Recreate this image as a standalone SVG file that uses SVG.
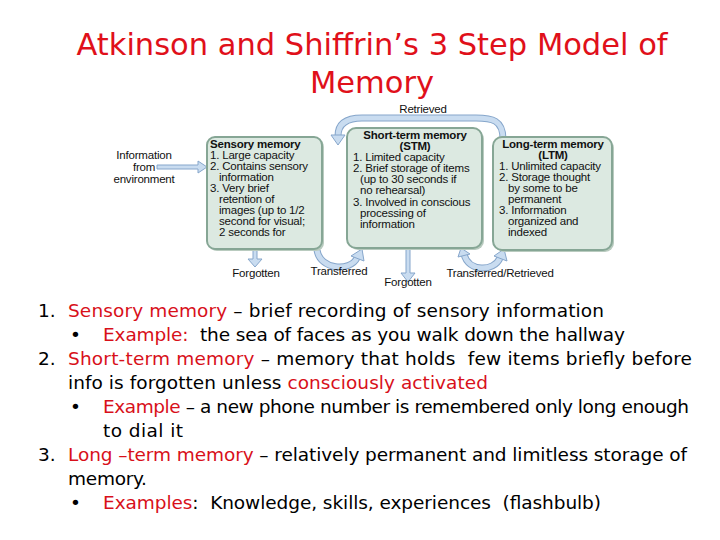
<svg xmlns="http://www.w3.org/2000/svg" width="720" height="540" viewBox="0 0 720 540">
<style>
.title{font-family:"DejaVu Sans",sans-serif;font-size:30.5px;fill:#e0101a;text-anchor:middle}
.box{fill:#dce9e1;stroke:#86a695;stroke-width:2}
.shadow{fill:#b9cbbf}
.d{font-family:"Liberation Sans",Arial,sans-serif;font-size:11.5px;letter-spacing:-0.2px;fill:#111}
.b{font-weight:bold}
.c{text-anchor:middle}
.body{font-family:"DejaVu Sans",sans-serif;font-size:18.5px;fill:#000;white-space:pre}
.r{fill:#d8101a}
.arr{fill:#c9dcf0;stroke:#86a6cb;stroke-width:1}
.arcO{fill:none;stroke:#86a6cb;stroke-width:7}
.arcI{fill:none;stroke:#c9dcf0;stroke-width:5}
</style>
<rect width="720" height="540" fill="#ffffff"/>
<g id="title">
<text class="title" x="372" y="55">Atkinson and Shiffrin’s 3 Step Model of</text>
<text class="title" x="372" y="93">Memory</text>
</g>
<g id="connectors">
<polygon class="arr" points="157,165 198,165 198,161 207,167 198,173 198,169 157,169"/>
<polygon class="arr" points="253,250 257,250 257,259 262,259 255,267 248,259 253,259"/>
<polygon class="arr" points="406,249 410,249 410,273 415,273 408,282 401,273 406,273"/>
<path class="arcO" d="M503,139 C503,120 492,118 476,118 L362,118 C346,118 338,124 338,136"/>
<path class="arcI" d="M503,139 C503,120 492,118 476,118 L362,118 C346,118 338,124 338,136"/>
<polygon class="arr" points="331,135 345,135 338,145"/>
<path class="arcO" d="M317,250 C320,270 350,272 357,258"/>
<path class="arcI" d="M317,250 C320,270 350,272 357,258"/>
<polygon class="arr" points="351,256 364,261 362,249"/>
<path class="arcO" d="M464,254 C468,272 494,272 500,258"/>
<path class="arcI" d="M464,254 C468,272 494,272 500,258"/>
<polygon class="arr" points="494,256 507,261 504,249"/>
<polygon class="arr" points="458,257 470,254 461,248"/>
</g>
<g id="env-label">
<text class="d c" x="144" y="159">Information</text>
<text class="d c" x="144" y="171">from</text>
<text class="d c" x="144" y="183">environment</text>
</g>
<g id="sensory">
<rect class="shadow" x="209" y="139" width="115" height="112" rx="8"/>
<rect class="box" x="207" y="137" width="115" height="112" rx="8"/>
<text class="d b" x="210" y="148">Sensory memory</text>
<text class="d" x="210" y="159">1. Large capacity</text>
<text class="d" x="210" y="170">2. Contains sensory</text>
<text class="d" x="219" y="181">information</text>
<text class="d" x="210" y="192">3. Very brief</text>
<text class="d" x="219" y="203">retention of</text>
<text class="d" x="219" y="214">images (up to 1/2</text>
<text class="d" x="219" y="225">second for visual;</text>
<text class="d" x="219" y="236">2 seconds for</text>
</g>
<g id="stm">
<rect class="shadow" x="349" y="130" width="135" height="120" rx="9"/>
<rect class="box" x="347" y="128" width="135" height="120" rx="9"/>
<text class="d b c" x="415" y="139">Short-term memory</text>
<text class="d b c" x="415" y="150">(STM)</text>
<text class="d" x="353" y="161">1. Limited capacity</text>
<text class="d" x="353" y="172">2. Brief storage of items</text>
<text class="d" x="360" y="183">(up to 30 seconds if</text>
<text class="d" x="360" y="194">no rehearsal)</text>
<text class="d" x="353" y="206">3. Involved in conscious</text>
<text class="d" x="360" y="217">processing of</text>
<text class="d" x="360" y="228">information</text>
</g>
<g id="ltm">
<rect class="shadow" x="495" y="139" width="119" height="113" rx="9"/>
<rect class="box" x="493" y="137" width="119" height="113" rx="9"/>
<text class="d b c" x="553" y="148">Long-term memory</text>
<text class="d b c" x="553" y="159">(LTM)</text>
<text class="d" x="499" y="170">1. Unlimited capacity</text>
<text class="d" x="499" y="181">2. Storage thought</text>
<text class="d" x="508" y="192">by some to be</text>
<text class="d" x="508" y="203">permanent</text>
<text class="d" x="499" y="214">3. Information</text>
<text class="d" x="508" y="225">organized and</text>
<text class="d" x="508" y="236">indexed</text>
</g>
<g id="labels">
<text class="d c" x="423" y="113">Retrieved</text>
<text class="d c" x="256" y="277">Forgotten</text>
<text class="d c" x="339" y="275">Transferred</text>
<text class="d c" x="408" y="286">Forgotten</text>
<text class="d c" x="500" y="277">Transferred/Retrieved</text>
</g>
<g id="notes">
<text class="body" x="38" y="317">1.</text>
<text class="body" x="68" y="317" textLength="536" lengthAdjust="spacing"><tspan class="r">Sensory memory</tspan> – brief recording of sensory information</text>
<text class="body" x="70" y="341">•</text>
<text class="body" x="103" y="341" textLength="522" lengthAdjust="spacing"><tspan class="r">Example:</tspan>  the sea of faces as you walk down the hallway</text>
<text class="body" x="38" y="365">2.</text>
<text class="body" x="68" y="365" textLength="624" lengthAdjust="spacing"><tspan class="r">Short-term memory</tspan> – memory that holds  few items briefly before</text>
<text class="body" x="68" y="389" textLength="420" lengthAdjust="spacing">info is forgotten unless <tspan class="r">consciously activated</tspan></text>
<text class="body" x="70" y="413">•</text>
<text class="body" x="103" y="413" textLength="586" lengthAdjust="spacing"><tspan class="r">Example</tspan> – a new phone number is remembered only long enough</text>
<text class="body" x="103" y="437" textLength="80" lengthAdjust="spacing">to dial it</text>
<text class="body" x="38" y="461">3.</text>
<text class="body" x="68" y="461" textLength="619" lengthAdjust="spacing"><tspan class="r">Long –term memory</tspan> – relatively permanent and limitless storage of</text>
<text class="body" x="68" y="485" textLength="79" lengthAdjust="spacing">memory.</text>
<text class="body" x="70" y="509">•</text>
<text class="body" x="103" y="509" textLength="498" lengthAdjust="spacing"><tspan class="r">Examples</tspan>:  Knowledge, skills, experiences  (flashbulb)</text>
</g>
</svg>
